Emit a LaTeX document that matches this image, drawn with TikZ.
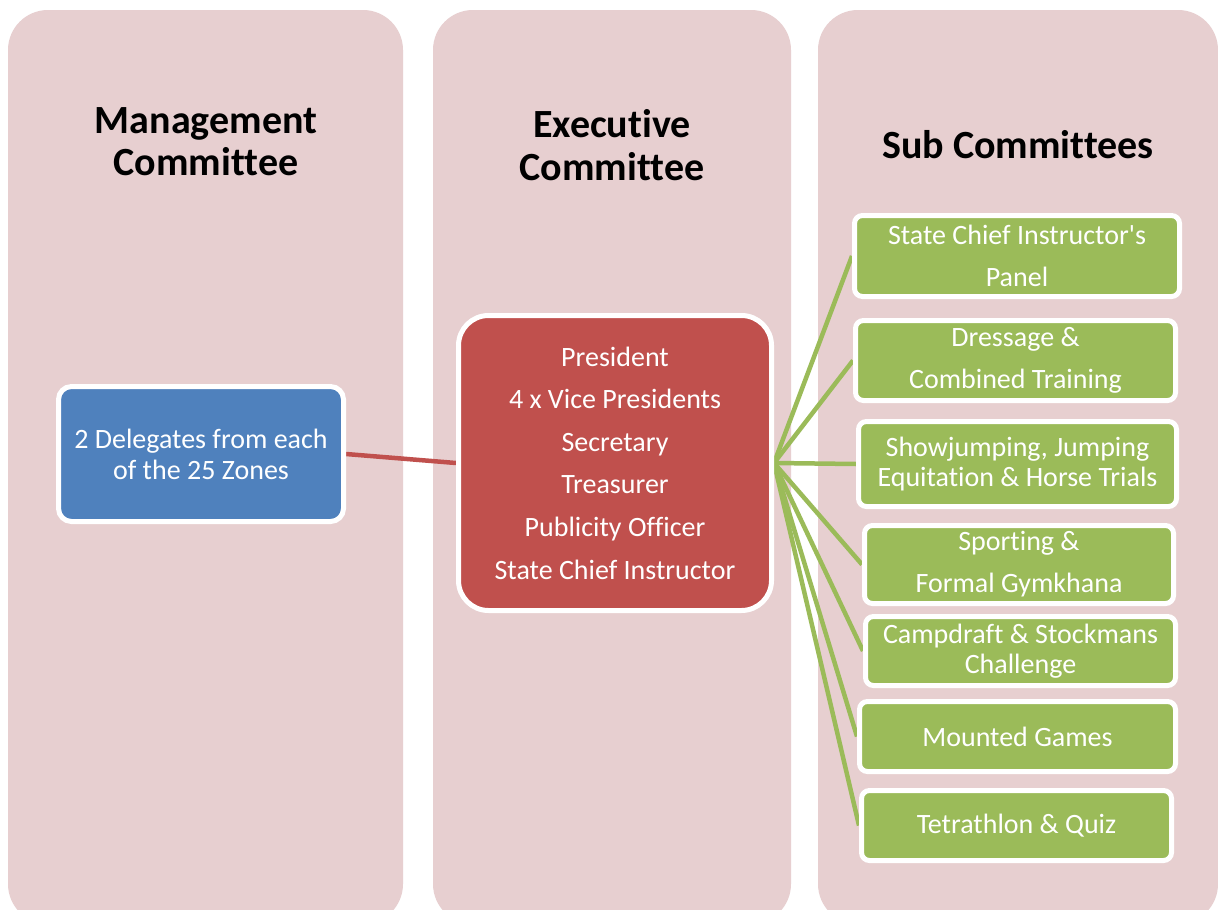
\documentclass[tikz,border=0pt]{standalone}
\usepackage{fontspec}
\setmainfont{Carlito}[Ligatures={TeXOff,NoCommon}]
\definecolor{colbg}{HTML}{E7CFD0}
\definecolor{mgblue}{HTML}{4F81BD}
\definecolor{exred}{HTML}{C0504D}
\definecolor{subgreen}{HTML}{9BBB59}
\pgfdeclarelayer{backlayer}
\pgfdeclarelayer{linklayer}
\pgfsetlayers{backlayer,linklayer,main}
\begin{document}
\begin{tikzpicture}[x=1pt,y=-1pt,
  colbox/.style={fill=colbg, draw=none, rounded corners=40pt},
  head/.style={anchor=base, font=\fontsize{40}{42}\selectfont\bfseries, text=black, inner sep=0pt},
  boxbase/.style={draw=white, line width=5pt, text=white, align=center, inner sep=0pt},
  bluebox/.style={boxbase, fill=mgblue, rounded corners=13pt, font=\fontsize{28}{31}\selectfont},
  redbox/.style={boxbase, fill=exred, rounded corners=30pt, font=\fontsize{28}{42.6}\selectfont},
  gbox/.style={boxbase, fill=subgreen, rounded corners=8pt, font=\fontsize{28}{42}\selectfont},
  gboxt/.style={gbox, font=\fontsize{28}{29.5}\selectfont},
  redline/.style={draw=exred, line width=4.5pt},
  greenline/.style={draw=subgreen, line width=4.5pt}
]
\useasboundingbox (0,0) rectangle (1218,910);
\clip (0,0) rectangle (1218,910);
\begin{pgfonlayer}{backlayer}
\fill[white] (0,0) rectangle (1218,910);
% columns
\fill[colbox] (8,10) rectangle (403,924);
\fill[colbox] (433,10) rectangle (791,924);
\fill[colbox] (818,10) rectangle (1218,924);
\end{pgfonlayer}
% headings
\node[head] (h1a) at (206,133) {Management};
\node[head] (h1b) at (206,175) {Committee};
\node[head] (h2a) at (612,137) {Executive};
\node[head] (h2b) at (612,180) {Committee};
\node[head] (h3) at (1018,158) {Sub Committees};
% boxes
\node[bluebox, minimum width=285pt, minimum height=135pt] (mg) at (201,454)
  {2 Delegates from each\\of the 25 Zones};
\node[redbox, minimum width=313pt, minimum height=295pt] (ex) at (615,463)
  {President\\4 x Vice Presidents\\Secretary\\Treasurer\\Publicity Officer\\State Chief Instructor};
\node[gbox, minimum width=325pt, minimum height=81pt] (s1) at (1017,256) {State Chief Instructor's\\Panel};
\node[gbox, minimum width=320pt, minimum height=80pt] (s2) at (1015.5,360.5) {Dressage \&\\Combined Training};
\node[gboxt, minimum width=318pt, minimum height=85pt] (s3) at (1017.5,464) {Showjumping, Jumping\\Equitation \& Horse Trials};
\node[gbox, minimum width=309pt, minimum height=78pt] (s4) at (1019,564.5) {Sporting \&\\Formal Gymkhana};
\node[gboxt, minimum width=310pt, minimum height=69pt] (s5) at (1020.5,651) {Campdraft \& Stockmans\\Challenge};
\node[gbox, minimum width=316pt, minimum height=70pt] (s6) at (1017.5,736.5) {Mounted Games};
\node[gbox, minimum width=310pt, minimum height=70pt] (s7) at (1016.5,825.5) {Tetrathlon \& Quiz};
% connectors (behind boxes)
\begin{pgfonlayer}{linklayer}
\draw[redline] (mg.east) -- (ex.west);
\foreach \s in {s1,s2,s3,s4,s5,s6,s7}
  \draw[greenline] (ex.east) -- (\s.west);
\end{pgfonlayer}
\end{tikzpicture}
\end{document}
